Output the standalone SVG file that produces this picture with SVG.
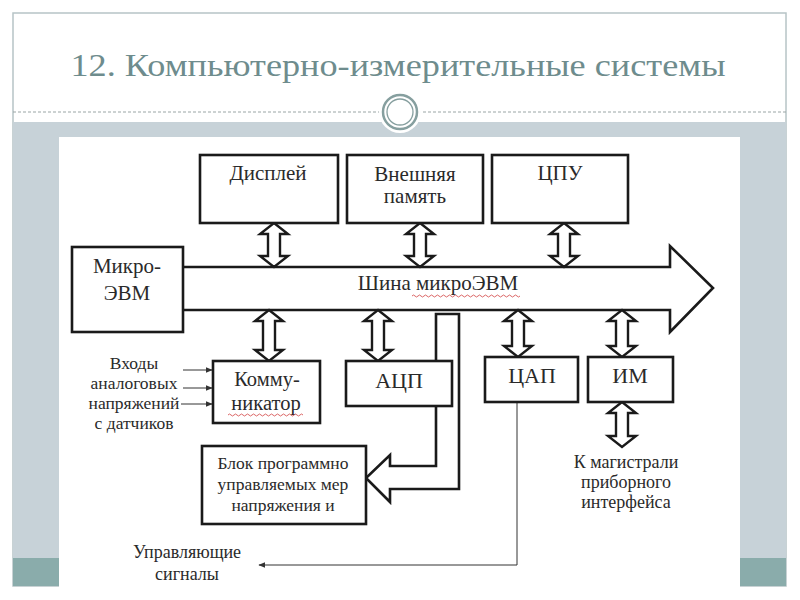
<svg xmlns="http://www.w3.org/2000/svg" width="800" height="600" viewBox="0 0 800 600">
<style>
.t{font-family:"Liberation Serif","DejaVu Serif","Noto Serif","Times New Roman",serif;fill:#2a2a2a;text-anchor:middle}
.box{fill:#fff;stroke:#1a1a1a;stroke-width:2.6}
.da{fill:#fff;stroke:#1a1a1a;stroke-width:2.4;stroke-linejoin:miter}
.thin{fill:none;stroke:#333;stroke-width:1}
.wavy{fill:none;stroke:#d04040;stroke-width:0.8}
</style>
<defs>
<marker id="ah" viewBox="0 0 10 10" refX="9" refY="5" markerWidth="7" markerHeight="7" orient="auto-start-reverse" markerUnits="userSpaceOnUse">
<path d="M0,1 L10,5 L0,9 Z" fill="#333"/>
</marker>
</defs>
<!-- slide background -->
<rect x="0" y="0" width="800" height="600" fill="#fff"/>
<rect x="13" y="13" width="773" height="573" fill="#fff" stroke="#b7c4c6" stroke-width="1.5"/>
<rect x="13" y="122" width="773" height="437" fill="#c7d2d8"/>
<rect x="13" y="558" width="773" height="28" fill="#8aacab"/>
<line x1="13" y1="112" x2="786" y2="112" stroke="#9aa5a5" stroke-width="1" stroke-dasharray="3,2"/>
<circle cx="400" cy="112" r="21" fill="#fff"/>
<circle cx="400" cy="112" r="17" fill="none" stroke="#869f9f" stroke-width="2.5"/>
<circle cx="400" cy="112" r="13" fill="none" stroke="#869f9f" stroke-width="1.3"/>
<text class="t" x="398" y="76" font-size="32" style="fill:#6e8c8d" textLength="655" lengthAdjust="spacingAndGlyphs">12. Компьютерно-измерительные системы</text>
<rect x="59" y="137" width="681" height="463" fill="#fff"/>

<!-- connectors -->
<g id="connectors">
  <!-- bus -->
  <path d="M183,267 H670 V246 L713,288 L670,332 V310 H183" fill="#fff" stroke="#1a1a1a" stroke-width="2.6"/>
  <!-- upper double arrows -->
  <path class="da" d="M274,223 L288,234 H280 V256 H288 L274,267 L260,256 H268 V234 H260 Z"/>
  <path class="da" d="M420,223 L434,234 H426 V256 H434 L420,267 L406,256 H414 V234 H406 Z"/>
  <path class="da" d="M564,223 L578,234 H570 V256 H578 L564,267 L550,256 H558 V234 H550 Z"/>
  <!-- lower double arrows -->
  <path class="da" d="M269,310 L283,321 H275 V350 H283 L269,361 L255,350 H263 V321 H255 Z"/>
  <path class="da" d="M378,310 L392,321 H384 V350 H392 L378,361 L364,350 H372 V321 H364 Z"/>
  <path class="da" d="M518,310 L532,321 H524 V346 H532 L518,357 L504,346 H512 V321 H504 Z"/>
  <path class="da" d="M622,310 L636,321 H628 V346 H636 L622,357 L608,346 H616 V321 H608 Z"/>
  <path class="da" d="M622,402 L636,413 H628 V436 H636 L622,447 L608,436 H616 V413 H608 Z"/>
  <!-- L-shaped thick arrow to Блок -->
  <path d="M436,361 V314 H459 V489 H390 V502 L366,478 L390,455 V466 H436 Z" fill="#fff" stroke="#1a1a1a" stroke-width="2.6" stroke-linejoin="miter"/>
  <!-- inputs -->
  <line class="thin" x1="183" y1="370" x2="212" y2="370" marker-end="url(#ah)"/>
  <line class="thin" x1="183" y1="388" x2="212" y2="388" marker-end="url(#ah)"/>
  <line class="thin" x1="181" y1="404" x2="212" y2="404" marker-end="url(#ah)"/>
  <!-- control signals -->
  <path class="thin" d="M517,402 V565 H259" marker-end="url(#ah)"/>
</g>

<g id="display"><rect class="box" x="200" y="155" width="138" height="68"/><text class="t" x="268" y="180" font-size="21">Дисплей</text></g>
<g id="extmem"><rect class="box" x="347" y="155" width="136" height="68"/><text class="t" x="415" y="181" font-size="21">Внешняя</text><text class="t" x="415" y="203" font-size="21">память</text></g>
<g id="cpu"><rect class="box" x="492" y="155" width="136" height="68"/><text class="t" x="560" y="180" font-size="21">ЦПУ</text></g>
<g id="micro"><rect class="box" x="72" y="247" width="111" height="85"/><text class="t" x="127" y="273" font-size="21">Микро-</text><text class="t" x="127" y="300" font-size="21">ЭВМ</text></g>
<g id="bus-label"><text class="t" x="438" y="290" font-size="21">Шина микроЭВМ</text>
<path class="wavy" d="M412,296 q1.5,-2 3,0 t3,0 t3,0 t3,0 t3,0 t3,0 t3,0 t3,0 t3,0 t3,0 t3,0 t3,0 t3,0 t3,0 t3,0 t3,0 t3,0 t3,0 t3,0 t3,0 t3,0 t3,0 t3,0 t3,0 t3,0 t3,0 t3,0 t3,0 t3,0 t3,0 t3,0 t3,0 t3,0 t3,0 t3,0 t3,0"/></g>
<g id="comm"><rect class="box" x="213" y="361" width="107" height="62"/><text class="t" x="267" y="386" font-size="20.5">Комму-</text><text class="t" x="266" y="410" font-size="20.5">никатор</text>
<path class="wavy" d="M228,415 q1.5,-2 3,0 t3,0 t3,0 t3,0 t3,0 t3,0 t3,0 t3,0 t3,0 t3,0 t3,0 t3,0 t3,0 t3,0 t3,0 t3,0 t3,0 t3,0 t3,0 t3,0 t3,0 t3,0 t3,0 t3,0 t3,0"/></g>
<g id="adc"><rect class="box" x="346" y="361" width="106" height="45"/><text class="t" x="399" y="388" font-size="22">АЦП</text></g>
<g id="dac"><rect class="box" x="485" y="357" width="93" height="45"/><text class="t" x="532" y="383" font-size="22">ЦАП</text></g>
<g id="im"><rect class="box" x="588" y="357" width="85" height="45"/><text class="t" x="630" y="383" font-size="22">ИМ</text></g>
<g id="block"><rect class="box" x="202" y="446" width="164" height="78"/><text class="t" x="283" y="469" font-size="17.5">Блок программно</text><text class="t" x="283" y="490" font-size="17.5">управляемых мер</text><text class="t" x="283" y="511" font-size="17.5">напряжения и</text></g>
<g id="inputs-label"><text class="t" x="134" y="369" font-size="17.5">Входы</text><text class="t" x="134" y="389" font-size="17.5">аналоговых</text><text class="t" x="134" y="409" font-size="17.5">напряжений</text><text class="t" x="134" y="429" font-size="17.5">с датчиков</text></g>
<g id="control-label"><text class="t" x="187" y="558" font-size="18">Управляющие</text><text class="t" x="187" y="580" font-size="18">сигналы</text></g>
<g id="bus-interface-label"><text class="t" x="626" y="468" font-size="18">К магистрали</text><text class="t" x="626" y="488" font-size="18">приборного</text><text class="t" x="626" y="508" font-size="18">интерфейса</text></g>
</svg>
